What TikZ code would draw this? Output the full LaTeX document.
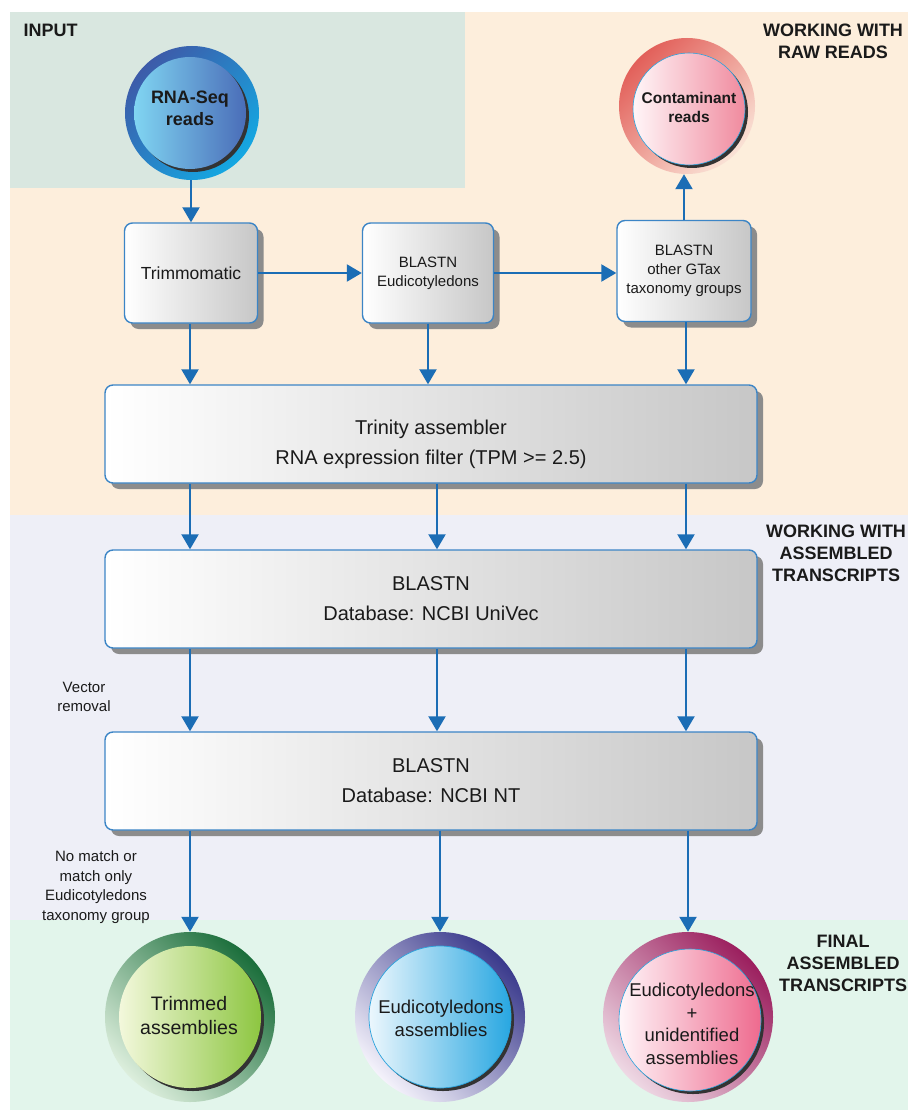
\documentclass[tikz,border=0pt]{standalone}
\usepackage{fontspec}
\setmainfont{Liberation Sans}
\usetikzlibrary{arrows.meta,shadows,calc}
\definecolor{inputbg}{HTML}{D9E7E0}
\definecolor{orangebg}{HTML}{FDEEDC}
\definecolor{lavbg}{HTML}{EEEFF7}
\definecolor{greenbg}{HTML}{E2F5EB}
\definecolor{arrblue}{HTML}{1B6DB5}
\definecolor{boxblue}{HTML}{3C85C6}
\definecolor{txt}{HTML}{1A1A1A}
\definecolor{shadowgray}{HTML}{8C8C8C}
\definecolor{rnaA}{HTML}{3D5BA9}
\definecolor{rnaB}{HTML}{14A8E2}
\definecolor{rnaC}{HTML}{80D5F2}
\definecolor{rnaD}{HTML}{4A6DB8}
\definecolor{conA}{HTML}{E2605A}
\definecolor{conB}{HTML}{FAE2D6}
\definecolor{conC}{HTML}{FFF6F8}
\definecolor{conD}{HTML}{F08A9E}
\definecolor{trA}{HTML}{1B6E3B}
\definecolor{trB}{HTML}{DCEEDC}
\definecolor{trC}{HTML}{F3F8DC}
\definecolor{trD}{HTML}{8DC641}
\definecolor{euA}{HTML}{3A3A8C}
\definecolor{euB}{HTML}{F4F2FB}
\definecolor{euC}{HTML}{ECF7FD}
\definecolor{euD}{HTML}{28A7E1}
\definecolor{unA}{HTML}{9B1F5E}
\definecolor{unB}{HTML}{EED8E4}
\definecolor{unC}{HTML}{FFF6F9}
\definecolor{unD}{HTML}{EE6A8E}
\definecolor{rimblue}{HTML}{2AA3DD}
\tikzset{
  arr/.style={draw=arrblue, line width=2.2pt, -{Triangle[length=15pt,width=17pt]}},
  procbox/.style={draw=boxblue, line width=1.4pt, rounded corners=8pt,
    left color=white, right color=black!22, inner sep=0pt, text=txt, align=center,
    drop shadow={shadow xshift=6pt, shadow yshift=-6pt, fill=shadowgray, opacity=1}},
  outerring/.style={circle, inner sep=0pt, draw=none},
  header/.style={font=\fontsize{18}{22}\selectfont\bfseries, text=txt, align=center},
  side/.style={font=\fontsize{15}{19.5}\selectfont, text=txt, align=center},
  bigtxt/.style={font=\fontsize{20}{30}\selectfont, text=txt, align=center},
  smalltxt/.style={font=\fontsize{15}{19}\selectfont},
  innershadow/.style={fill=black!80},
}
\begin{document}
\begin{tikzpicture}[x=1pt,y=-1pt]
\useasboundingbox (0,0) rectangle (912,1115);
\fill[white] (0,0) rectangle (912,1115);
% bands
\fill[orangebg] (10,12) rectangle (908,515);
\fill[inputbg] (10,12) rectangle (465,188);
\fill[lavbg] (10,515) rectangle (908,920);
\fill[greenbg] (10,920) rectangle (908,1110);

% headers
\node[header, anchor=west] (hin) at (20,30) {INPUT};
\node[header] (hraw) at (833,41) {WORKING WITH\\RAW READS};
\node[header] (hasm) at (836,553) {WORKING WITH\\ASSEMBLED\\TRANSCRIPTS};
\node[header] (hfin) at (843,963) {FINAL\\ASSEMBLED\\TRANSCRIPTS};

% column coordinates
\coordinate (colL) at (190,0);
\coordinate (colM) at (437,0);
\coordinate (colR) at (686,0);

% RNA-Seq circle
\node[outerring, minimum size=134pt, top color=rnaA, bottom color=rnaB, shading angle=45] (rna) at (192,113) {};
\fill[innershadow] (193,116) circle (56);
\shade[left color=rnaC, right color=rnaD] (190,113) circle (56);
\node[font=\fontsize{18}{22}\selectfont\bfseries, text=txt, align=center] (rnat) at (190,108) {RNA-Seq\\reads};

% Contaminant circle
\node[outerring, minimum size=136pt, top color=conA, bottom color=conB, shading angle=45] (con) at (687,106) {};
\fill[innershadow] (692,112) circle (56);
\shade[left color=conC, right color=conD, draw=rimblue, line width=0.6pt] (689,109) circle (56);
\node[font=\fontsize{15.5}{19}\selectfont\bfseries, text=txt, align=center] (cont) at (689,107) {Contaminant\\reads};

% small boxes
\node[procbox, minimum width=133pt, minimum height=100pt, font=\fontsize{17.5}{21}\selectfont] (trim) at (191,273) {Trimmomatic};
\node[procbox, minimum width=131pt, minimum height=100pt, smalltxt] (blast) at (428,273) {BLASTN\\Eudicotyledons};
\node[procbox, minimum width=134pt, minimum height=101pt, smalltxt] (other) at (684,271) {BLASTN\\other GTax\\taxonomy groups};

% big boxes
\node[procbox, minimum width=652pt, minimum height=98pt] (trinity) at (431,434) {};
\node[bigtxt] (trinityt) at (431,444) {Trinity assembler\\RNA expression filter (TPM >= 2.5)};
\node[procbox, minimum width=652pt, minimum height=98pt, bigtxt] (univec) at (431,599) {BLASTN\\Database: NCBI UniVec};
\node[procbox, minimum width=652pt, minimum height=98pt, bigtxt] (nt) at (431,781) {BLASTN\\Database: NCBI NT};

% bottom circles
\node[outerring, minimum size=170pt, top color=trA, bottom color=trB, shading angle=-45] (trimmed) at (190,1017) {};
\fill[innershadow] (193,1020) circle (71);
\shade[left color=trC, right color=trD] (190,1017) circle (71);
\node[font=\fontsize{19.5}{24}\selectfont, text=txt, align=center] (trimmedt) at (189,1016) {Trimmed\\assemblies};

\node[outerring, minimum size=170pt, top color=euA, bottom color=euB, shading angle=-45] (eud) at (440,1017) {};
\fill[innershadow] (443,1020) circle (71);
\shade[left color=euC, right color=euD, draw=rimblue, line width=0.7pt] (440,1017) circle (71);
\node[font=\fontsize{18.5}{23}\selectfont, text=txt, align=center] (eudt) at (441,1018) {Eudicotyledons\\assemblies};

\node[outerring, minimum size=170pt, top color=unA, bottom color=unB, shading angle=-45] (uni) at (688,1017) {};
\fill[innershadow] (693,1023) circle (71);
\shade[left color=unC, right color=unD, draw=rimblue, line width=0.6pt] (690,1020) circle (71);
\node[font=\fontsize{18.5}{22.5}\selectfont, text=txt, align=center] (unit) at (692,1024) {Eudicotyledons\\+\\unidentified\\assemblies};

% side labels
\node[side] (vec) at (84,697) {Vector\\removal};
\node[side] (nomatch) at (96,887) {No match or\\match only\\Eudicotyledons\\taxonomy group};

% connectors, raw reads
\draw[arr] (rna.south -| trim.north) -- (trim.north);
\draw[arr] (trim.east) -- (trim.east -| blast.west);
\draw[arr] (blast.east) -- (blast.east -| other.west);
\draw[arr] (other.north) -- (other.north |- con.south);
\draw[arr] (trim.south -| colL) -- (trinity.north -| colL);
\draw[arr] (blast.south) -- (blast.south |- trinity.north);
\draw[arr] (other.south -| colR) -- (trinity.north -| colR);

% assembled transcripts
\foreach \c in {colL,colM,colR}{
  \draw[arr] (trinity.south -| \c) -- (univec.north -| \c);
  \draw[arr] (univec.south -| \c) -- (nt.north -| \c);
}
\draw[arr] (nt.south -| trimmed.north) -- (trimmed.north);
\draw[arr] (nt.south -| eud.north) -- (eud.north);
\draw[arr] (nt.south -| uni.north) -- (uni.north);
\end{tikzpicture}
\end{document}
